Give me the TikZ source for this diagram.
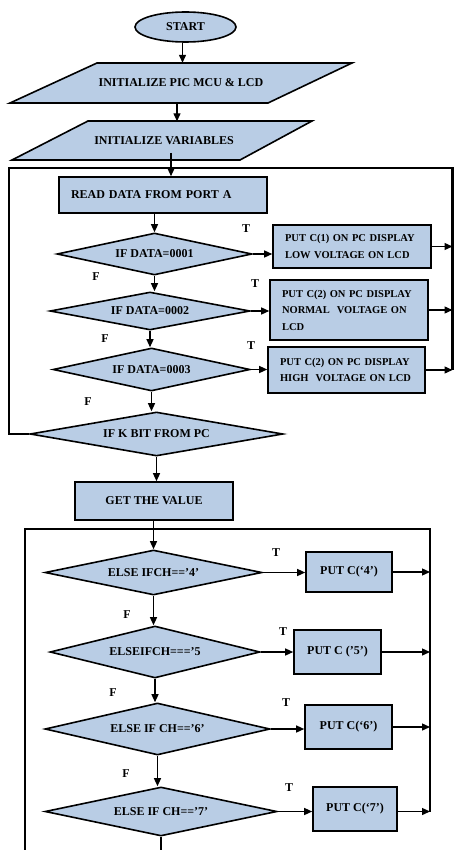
\documentclass[tikz,border=0pt]{standalone}
\usepackage{fontspec}
\setmainfont{Liberation Serif}
\usetikzlibrary{shapes.geometric,arrows.meta}
\definecolor{boxfill}{HTML}{B9CDE5}
\tikzset{
  base/.style={draw=black, line width=1.6pt, fill=boxfill, font=\bfseries\fontsize{12}{14}\selectfont, inner sep=2pt},
  proc/.style={base, rectangle},
  dec/.style={base, diamond, aspect=5, inner sep=0pt},
  term/.style={base, ellipse},
  pbox/.style={base, rectangle, font=\bfseries\fontsize{10.5}{16.5}\selectfont, align=left, inner xsep=12pt, text width=#1},
  lbl/.style={font=\bfseries\fontsize{12}{14}\selectfont, inner sep=0pt},
  arr/.style={line width=1.3pt, -{Triangle[length=8pt,width=7pt]}},
  loop/.style={line width=2.4pt},
  ptxt/.style={font=\bfseries\fontsize{12}{14}\selectfont, inner sep=0pt, minimum height=#1}
}
\begin{document}
\begin{tikzpicture}[x=1pt,y=-1pt]
\useasboundingbox (0,0) rectangle (454,850);
% loop frame coordinates
\coordinate (L) at (9,168);
\coordinate (R) at (452.5,168);
\coordinate (L2) at (25,529);
\coordinate (R2) at (430,529);
\coordinate (bot) at (25,850);
\coordinate (c1) at (171,153);

\node[term, minimum width=101pt, minimum height=30pt] (start) at (185.5,27) {START};

\filldraw[base] (97,63) -- (352,63) -- (268,103) -- (10,103) -- cycle;
\node[ptxt=40pt] (init1) at (181,83) {INITIALIZE PIC MCU \& LCD};
\filldraw[base] (88,121) -- (312,121) -- (240,160) -- (12,160) -- cycle;
\node[ptxt=39pt] (init2) at (164,141) {INITIALIZE VARIABLES};

\node[proc, minimum width=208pt, minimum height=36pt, text width=184pt, align=left] (read) at (163,195) {READ DATA FROM PORT A};

\node[dec, minimum width=195pt, minimum height=42pt] (d1) at (154.5,254) {IF DATA=0001};
\node[pbox=134pt, minimum height=43pt] (b1) at (352,246.5) {PUT C(1) ON PC DISPLAY\\LOW VOLTAGE ON LCD};
\node[dec, minimum width=200pt, minimum height=38pt] (d2) at (150,311) {IF DATA=0002};
\node[pbox=134pt, minimum height=60pt] (b2) at (349,310) {PUT C(2) ON PC DISPLAY\\NORMAL\ \ VOLTAGE ON\\LCD};
\node[dec, minimum width=197pt, minimum height=43pt] (d3) at (151.5,369.5) {IF DATA=0003};
\node[pbox=133pt, minimum height=46pt] (b3) at (346.5,370) {PUT C(2) ON PC DISPLAY\\HIGH\ \ VOLTAGE ON LCD};
\node[dec, minimum width=253pt, minimum height=44pt] (d4) at (156.5,434) {IF K BIT FROM PC};

\node[proc, minimum width=158pt, minimum height=38pt] (get) at (154,501) {GET THE VALUE};

\node[dec, minimum width=217pt, minimum height=45pt] (d5) at (153.5,572.5) {ELSE IFCH==’4’};
\node[proc, minimum width=86pt, minimum height=40pt] (b5) at (349,572) {PUT C(‘4’)};
\node[dec, minimum width=210pt, minimum height=52pt] (d6) at (155,652) {ELSEIFCH===’5};
\node[proc, minimum width=87pt, minimum height=44pt] (b6) at (337.5,652) {PUT C (’5’)};
\node[dec, minimum width=225pt, minimum height=52pt] (d7) at (157.5,729) {ELSE IF CH==’6’};
\node[proc, minimum width=87pt, minimum height=44pt] (b7) at (348.5,727) {PUT C(‘6’)};
\node[dec, minimum width=232pt, minimum height=49pt] (d8) at (161,811.5) {ELSE IF CH==’7’};
\node[proc, minimum width=84pt, minimum height=44pt] (b8) at (355,809) {PUT C(‘7’)};

% labels
\node[lbl] (t1) at (246,229) {T};
\node[lbl] (t2) at (255,284) {T};
\node[lbl] (t3) at (251,346) {T};
\node[lbl] (t5) at (276,553) {T};
\node[lbl] (t6) at (283,632) {T};
\node[lbl] (t7) at (286,703) {T};
\node[lbl] (t8) at (289,788) {T};
\node[lbl] (f1) at (96,277) {F};
\node[lbl] (f2) at (105,339) {F};
\node[lbl] (f3) at (88,402) {F};
\node[lbl] (f5) at (127,615) {F};
\node[lbl] (f6) at (113,693) {F};
\node[lbl] (f7) at (126,774) {F};

% loops
\draw[loop] (d4.west) -- (L |- d4.west) -- (L) -- (R) -- (R |- b3.east);
\draw[loop] (bot) -- (L2) -- (R2) -- (R2 |- d8.east);

% connectors
\draw[arr] ([xshift=-3pt]start.south) -- ([xshift=-3pt]start.south |- init1.north);
\draw[arr] ([xshift=-4pt]init1.south) -- ([xshift=-4pt]init1.south |- init2.north);
\draw[arr] (c1) -- (c1 |- read.north);
\draw[arr] (d1.north |- read.south) -- (d1.north);
\draw[arr] (d1.east) -- (d1.east -| b1.west);
\draw[arr] (b1.east) -- (b1.east -| R);
\draw[arr] (d1.south) -- (d1.south |- d2.north);
\draw[arr] (d2.east) -- (d2.east -| b2.west);
\draw[arr] (b2.east) -- (b2.east -| R);
\draw[arr] (d2.south) -- (d2.south |- d3.north);
\draw[arr] (d3.east) -- (d3.east -| b3.west);
\draw[arr] (b3.east) -- (b3.east -| R);
\draw[arr] (d3.south) -- (d3.south |- d4.north);
\draw[arr] (d4.south) -- (d4.south |- get.north);
\draw[arr] (d5.north |- get.south) -- (d5.north);
\draw[arr] (d5.east) -- (d5.east -| b5.west);
\draw[arr] (b5.east) -- (b5.east -| R2);
\draw[arr] (d5.south) -- (d5.south |- d6.north);
\draw[arr] (d6.east) -- (d6.east -| b6.west);
\draw[arr] (b6.east) -- (b6.east -| R2);
\draw[arr] (d6.south) -- (d6.south |- d7.north);
\draw[arr] (d7.east) -- (d7.east -| b7.west);
\draw[arr] (b7.east) -- (b7.east -| R2);
\draw[arr] (d7.south) -- (d7.south |- d8.north);
\draw[arr] (d8.east) -- (d8.east -| b8.west);
\draw[arr] (b8.east |- d8.east) -- (R2 |- d8.east);
\draw[line width=1.3pt] (d8.south) -- (d8.south |- bot);
\end{tikzpicture}
\end{document}
